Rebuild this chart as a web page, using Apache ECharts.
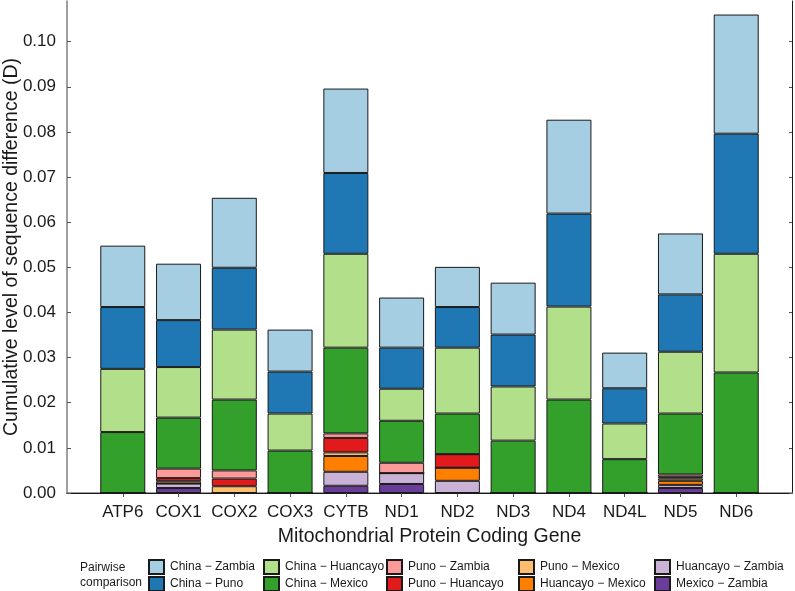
<!DOCTYPE html>
<html><head><meta charset="utf-8">
<script src="https://cdn.jsdelivr.net/npm/echarts@6/dist/echarts.min.js"></script>
<style>html,body{margin:0;padding:0;background:#fff}#c{width:795px;height:591px}</style>
</head><body><div id="c"></div>
<script>
const genes = ['ATP6','COX1','COX2','COX3','CYTB','ND1','ND2','ND3','ND4','ND4L','ND5','ND6'];
// stacked from bottom to top
const mexicoZambia    = [0,      0.0011, 0,      0,      0.0016, 0.0020, 0,      0,      0,      0,      0.0011, 0];
const huancayoZambia  = [0,      0.0010, 0,      0,      0.0031, 0.0024, 0.0027, 0,      0,      0,      0.0007, 0];
const huancayoMexico  = [0,      0,      0,      0,      0.0035, 0,      0.0029, 0,      0,      0,      0.0009, 0];
const punoMexico      = [0,      0.0005, 0.0015, 0,      0.0008, 0,      0,      0,      0,      0,      0.0005, 0];
const punoHuancayo    = [0,      0.0007, 0.0017, 0,      0.0032, 0,      0.0030, 0,      0,      0,      0.0003, 0];
const punoZambia      = [0,      0.0021, 0.0018, 0,      0.0010, 0.0023, 0,      0,      0,      0,      0.0006, 0];
const chinaMexico     = [0.0135, 0.0113, 0.0157, 0.0094, 0.0190, 0.0093, 0.0090, 0.0116, 0.0207, 0.0075, 0.0135, 0.0267];
const chinaHuancayo   = [0.0140, 0.0112, 0.0155, 0.0082, 0.0208, 0.0071, 0.0146, 0.0120, 0.0206, 0.0079, 0.0137, 0.0263];
const chinaPuno       = [0.0137, 0.0104, 0.0137, 0.0093, 0.0179, 0.0091, 0.0090, 0.0115, 0.0206, 0.0078, 0.0127, 0.0266];
const chinaZambia     = [0.0136, 0.0125, 0.0155, 0.0093, 0.0187, 0.0111, 0.0089, 0.0115, 0.0208, 0.0079, 0.0135, 0.0264];
const yTicks = [0,0.01,0.02,0.03,0.04,0.05,0.06,0.07,0.08,0.09,0.10];

const seriesDefs = [
  ['Mexico \u2212 Zambia', mexicoZambia, '#6A3D9A'],
  ['Huancayo \u2212 Zambia', huancayoZambia, '#CAB2D6'],
  ['Huancayo \u2212 Mexico', huancayoMexico, '#FF7F00'],
  ['Puno \u2212 Mexico', punoMexico, '#FDBF6F'],
  ['Puno \u2212 Huancayo', punoHuancayo, '#E31A1C'],
  ['Puno \u2212 Zambia', punoZambia, '#FB9A99'],
  ['China \u2212 Mexico', chinaMexico, '#33A02C'],
  ['China \u2212 Huancayo', chinaHuancayo, '#B2DF8A'],
  ['China \u2212 Puno', chinaPuno, '#1F78B4'],
  ['China \u2212 Zambia', chinaZambia, '#A6CEE3']
];
// padded category list: empty slot at each end gives the outer spacing
const cats = [''].concat(genes, ['']);
const FONT = '"Liberation Sans", Arial, Helvetica, sans-serif';
const series = seriesDefs.map(([name, vals, color]) => ({
  name, type: 'bar', stack: 'total', barWidth: 45,
  itemStyle: { color, borderColor: '#1a1a1a', borderWidth: 1 },
  data: [null].concat(vals, [null]),
  emphasis: { disabled: true }, silent: true
}));
const legendCols = [
  [['China \u2212 Zambia','China \u2212 Puno'], 148],
  [['China \u2212 Huancayo','China \u2212 Mexico'], 263],
  [['Puno \u2212 Zambia','Puno \u2212 Huancayo'], 386],
  [['Puno \u2212 Mexico','Huancayo \u2212 Mexico'], 518],
  [['Huancayo \u2212 Zambia','Mexico \u2212 Zambia'], 654]
];
const legend = legendCols.map(([names, left]) => ({
  data: names.map(n => ({ name: n, icon: 'rect' })),
  orient: 'vertical', left, top: 559, height: 60, itemWidth: 15, itemHeight: 14, itemGap: 1,
  padding: 0, selectedMode: false,
  textStyle: { fontFamily: FONT, fontSize: 12, color: '#1a1a1a', padding: [0,0,0,1] }
}));
const chart = echarts.init(document.getElementById('c'), null, { renderer: 'canvas' });
chart.setOption({
  animation: false,
  backgroundColor: '#fff',
  grid: { left: 67, right: 3, top: 1, bottom: 98, containLabel: false, outerBoundsMode: 'none' },
  xAxis: [{
    type: 'category', data: cats, boundaryGap: false,
    name: 'Mitochondrial Protein Coding Gene', nameLocation: 'middle', nameGap: 34,
    nameMoveOverlap: false,
    nameTextStyle: { fontFamily: FONT, fontSize: 19.5, color: '#1a1a1a' },
    axisLine: { show: true, lineStyle: { color: '#7f7f7f', width: 1.5 } },
    axisTick: { show: true, length: 4, interval: (i, v) => v !== '', lineStyle: { color: '#555' } },
    axisLabel: { fontFamily: FONT, fontSize: 17, color: '#1a1a1a', margin: 11, interval: 0 },
    splitLine: { show: false }
  }, {
    type: 'category', data: cats, boundaryGap: false, position: 'top',
    axisLine: { show: true, lineStyle: { color: '#1a1a1a', width: 1 } },
    axisTick: { show: false }, axisLabel: { show: false }, splitLine: { show: false }
  }],
  yAxis: [{
    type: 'value', min: 0, max: 0.109, interval: 0.01,
    name: 'Cumulative level of sequence difference (D)', nameLocation: 'middle', nameGap: 45,
    nameMoveOverlap: false,
    nameTextStyle: { fontFamily: FONT, fontSize: 19.5, color: '#1a1a1a' },
    axisLine: { show: true, lineStyle: { color: '#7f7f7f', width: 1.5 } },
    axisTick: { show: true, inside: true, length: 4, lineStyle: { color: '#555' }, customValues: yTicks },
    axisLabel: { fontFamily: FONT, fontSize: 17, color: '#1a1a1a', margin: 11,
      customValues: yTicks, formatter: v => v.toFixed(2) },
    splitLine: { show: false }
  }, {
    type: 'value', position: 'right', min: 0, max: 0.109, interval: 0.01,
    axisLine: { show: true, lineStyle: { color: '#1a1a1a', width: 1 } },
    axisTick: { show: true, inside: true, length: 3, lineStyle: { color: '#555' }, customValues: yTicks },
    axisLabel: { show: false }, splitLine: { show: false }
  }],
  legend,
  graphic: [{
    type: 'text', left: 80, top: 560,
    style: { text: 'Pairwise\ncomparison', fontFamily: FONT, fontSize: 12, lineHeight: 15, fill: '#1a1a1a' }
  }],
  series
});
</script></body></html>
